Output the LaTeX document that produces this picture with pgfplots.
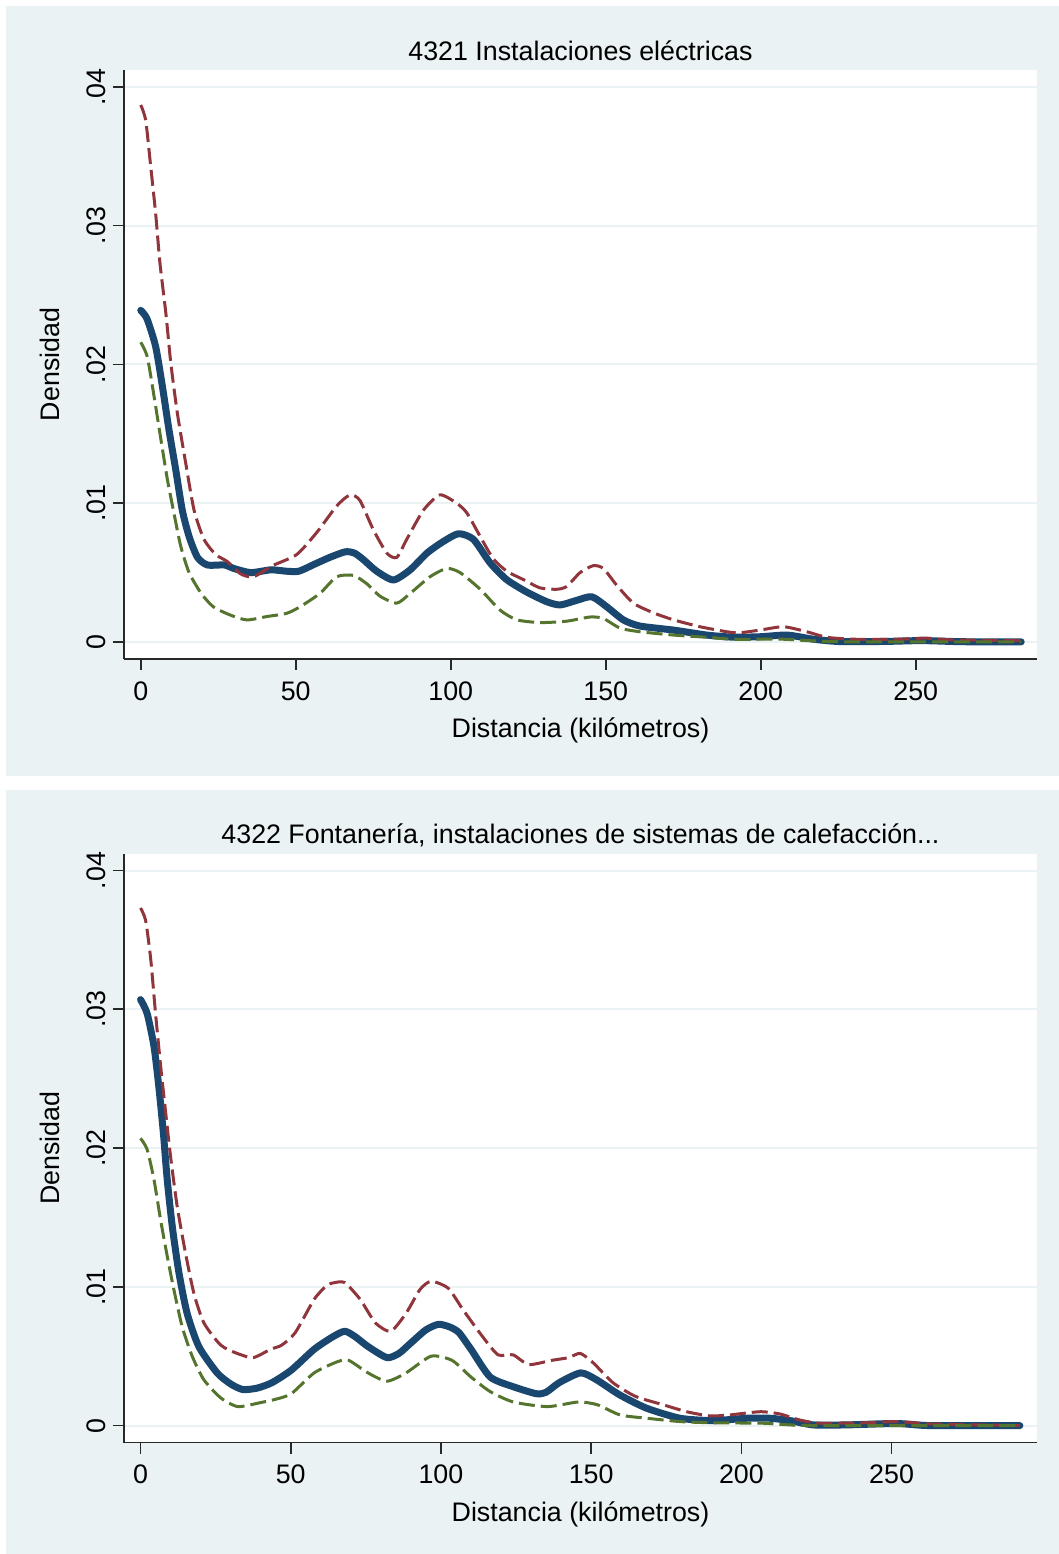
\documentclass[border=0pt]{standalone}
\usepackage{pgfplots}
\pgfplotsset{compat=1.18}
\usepackage{fontspec}
\setmainfont{Liberation Sans}
\definecolor{bgc}{RGB}{234,242,243}
\definecolor{snavy}{RGB}{26,71,111}
\definecolor{smaroon}{RGB}{144,53,59}
\definecolor{sgreen}{RGB}{85,117,47}
\definecolor{axc}{RGB}{40,40,40}
\pgfplotsset{
  statastyle/.style={
    scale only axis, width=456.5pt, height=294.5pt,
    ymin=-0.001225, ymax=0.04122,
    scaled y ticks=false, scaled x ticks=false,
    axis x line*=bottom, axis y line*=left,
    axis line style={axc, line width=0.8pt},
    every tick/.style={axc, line width=0.8pt},
    tick align=outside, major tick length=5.5pt,
    ytick={0,0.01,0.02,0.03,0.04},
    yticklabels={0,.01,.02,.03,.04},
    xtick={0,50,100,150,200,250},
    xticklabels={0,50,100,150,200,250},
    ymajorgrids, grid style={bgc, line width=1pt},
    axis background/.style={fill=white},
    font=\fontsize{13.4}{15}\selectfont,
    yticklabel style={rotate=90, anchor=south, inner sep=3.5pt},
    xticklabel style={anchor=north, inner sep=0pt, yshift=-5.5pt},
    xlabel={Distancia (kilómetros)}, ylabel={Densidad},
    xlabel style={at={(axis description cs:0.5,-0.1341)}, anchor=base},
    ylabel style={at={(axis description cs:-0.0701,0.5)}, anchor=base},
    title style={at={(axis description cs:0.5,0.996)}, anchor=base},
    mainl/.style={snavy, line width=3.5pt, line cap=round, line join=round, smooth, tension=0.4},
    upl/.style={smaroon, line width=1.5pt, dash pattern=on 8pt off 3pt, smooth, tension=0.4},
    lol/.style={sgreen, line width=1.5pt, dash pattern=on 8pt off 3pt, smooth, tension=0.4},
  }
}
\begin{document}
\begin{tikzpicture}
\fill[white] (0,0) rectangle (529.5pt,777pt);
\fill[bgc] (3pt,389pt) rectangle (529.5pt,774pt);
\fill[bgc] (3pt,0pt) rectangle (529.5pt,382pt);
\begin{axis}[statastyle, at={(62pt,447.5pt)}, anchor=south west,
  xmin=-5.4, xmax=289.1, title={4321 Instalaciones eléctricas}]
\addplot[mainl] coordinates {
(0,0.0239)(2,0.0233)(4.8,0.0213)(7,0.0184)(9.1,0.0153)(11.3,0.0124)(13.4,0.0095)
(15.6,0.0076)(18.3,0.0061)(21.5,0.00555)(27,0.00555)(30,0.0053)(35.5,0.0050)
(42,0.0052)(47,0.0051)(51,0.0051)(56,0.0056)(61,0.0061)(66,0.0065)(69,0.0064)
(72,0.0059)(76.1,0.0051)(81.5,0.00447)(86.9,0.0052)(92.3,0.0064)(97.3,0.0072)
(102.5,0.0078)(107.3,0.0074)(112.7,0.0057)(118,0.0045)(124.5,0.0036)(131,0.0029)
(135.3,0.00267)(140.6,0.0030)(145.5,0.00326)(150.3,0.00254)(155.7,0.00159)
(161,0.00115)(171.8,0.00086)(182.6,0.0005)(191,0.00035)(200,0.00038)(208.5,0.0005)
(217,0.0002)(225.6,0.00003)(240,0.00004)(252,0.0001)(265,0.00002)(284,0.00001)};
\addplot[upl] coordinates {
(0,0.0387)(1.6,0.0376)(3.2,0.0343)(4.8,0.0309)(6.2,0.0273)(8.1,0.0237)(9.7,0.0201)
(11.8,0.0165)(14.5,0.0129)(17.2,0.0095)(20.4,0.0074)(24.2,0.0063)(27.9,0.0058)
(32.3,0.0049)(36.4,0.0047)(42.5,0.0055)(50.3,0.0063)(56.8,0.0079)(63.2,0.0098)
(67.5,0.0106)(70.7,0.0102)(75,0.0081)(79.4,0.0064)(82.6,0.0061)(85.8,0.0074)
(91.2,0.0095)(96.5,0.0106)(101.9,0.0100)(105.2,0.0093)(109.5,0.0076)(113.7,0.0060)
(118.1,0.0051)(123.4,0.0045)(128.8,0.0039)(134.2,0.0038)(137.4,0.0040)(141.7,0.0050)
(146,0.0055)(149.2,0.0053)(153.5,0.0041)(158.9,0.0028)(165.4,0.0021)(171.8,0.0016)
(180.4,0.0011)(189,0.00074)(193,0.00066)(199.8,0.00086)(207.3,0.0011)(214.8,0.00074)
(221.3,0.00034)(230,0.0002)(245,0.0002)(253,0.00028)(262,0.00015)(284,0.0001)};
\addplot[lol] coordinates {
(0,0.0216)(2.1,0.02056)(4.3,0.0177)(6.5,0.0146)(8.6,0.0117)(10.7,0.0093)(12.9,0.0069)
(15.6,0.0050)(19.5,0.0035)(23.4,0.00254)(28.8,0.00195)(34.2,0.00159)(40.6,0.00183)
(47.1,0.00207)(51.4,0.00254)(57.8,0.0035)(63.2,0.0047)(68.6,0.0048)(72.9,0.0042)
(77.2,0.0033)(82.6,0.0028)(86.9,0.0035)(93.3,0.0047)(98.7,0.0053)(103,0.0050)
(109.5,0.0038)(115.9,0.0023)(121.3,0.0016)(128.8,0.0014)(137.4,0.0015)(144.9,0.0018)
(149.2,0.0017)(154.6,0.0010)(161,0.00074)(171.8,0.0005)(182.6,0.00034)(191.2,0.0002)
(207,0.0002)(215,0.0001)(225,0.00002)(250,0.00001)(284,0.0)};
\end{axis}
\begin{axis}[statastyle, at={(62pt,55.7pt)}, anchor=south west,
  xmin=-5.5, xmax=298.4, title={4322 Fontanería, instalaciones de sistemas de calefacción...}]
\addplot[mainl] coordinates {
(0,0.0307)(2.2,0.0297)(4.5,0.0273)(6.1,0.0244)(7.6,0.0211)(8.9,0.0177)(10.6,0.0143)
(12.8,0.0110)(15.5,0.0081)(19.4,0.0057)(25.5,0.0038)(30,0.0030)(34,0.0026)
(38.8,0.0027)(43.8,0.0031)(50.2,0.0040)(57.8,0.0055)(64,0.0064)(68,0.0068)
(71.5,0.0064)(75.7,0.0057)(82,0.0049)(86,0.0052)(89.7,0.0059)(95,0.0069)(99.2,0.0073)
(103,0.0071)(106,0.0067)(110,0.0055)(116.4,0.0035)(124.1,0.0028)(131.7,0.0023)
(135,0.0024)(139.4,0.0031)(146.5,0.0038)(151.8,0.0033)(159.6,0.0022)(168.5,0.00125)
(179.6,0.00053)(190.6,0.00036)(201.8,0.00053)(209.5,0.00053)(216.2,0.00036)
(223.9,0.00005)(235,0.00005)(251.7,0.00015)(262.8,0.0)(292.7,0.0)};
\addplot[upl] coordinates {
(0,0.0373)(1.7,0.0364)(3.4,0.0336)(5,0.0297)(6.7,0.0259)(8.4,0.0225)(10,0.0194)
(12.2,0.0158)(15,0.0124)(17.8,0.0095)(21.1,0.0074)(26.7,0.0058)(32.2,0.0052)
(37.5,0.0049)(43.3,0.0055)(47,0.0058)(51.5,0.0067)(57.8,0.0091)(62,0.0101)
(64.5,0.0103)(68,0.0103)(73.1,0.0091)(78.2,0.0074)(83.3,0.0068)(88.4,0.0081)
(93,0.0098)(96.7,0.0104)(102.4,0.0099)(107.5,0.0083)(113.9,0.0064)(119,0.0051)
(124,0.0051)(129.2,0.0044)(136.8,0.0047)(142.5,0.0049)(146.4,0.0052)(150.8,0.0045)
(157.2,0.0031)(164.8,0.0021)(174,0.0015)(181.8,0.0010)(189.5,0.0007)(196.2,0.00077)
(206.2,0.0010)(212.8,0.00084)(219.5,0.0004)(226.2,0.00017)(240.6,0.0002)
(251.7,0.00029)(262.8,0.00012)(279.4,0.00005)(292.7,0.0)};
\addplot[lol] coordinates {
(0,0.0207)(2.2,0.0199)(4.5,0.0177)(6.7,0.0148)(8.9,0.0122)(11.1,0.0098)(13.9,0.0071)
(17.2,0.0050)(21.1,0.0033)(26.7,0.0020)(32.4,0.00137)(40,0.00166)(45,0.0019)
(50.2,0.0023)(57.8,0.0038)(65.5,0.0046)(69.3,0.0047)(75.7,0.0038)(82,0.0032)
(88.4,0.0038)(96.7,0.0050)(103.7,0.0047)(110,0.0035)(116.4,0.00245)(124.1,0.0017)
(135.5,0.00137)(145.7,0.0017)(152.1,0.0015)(159.6,0.00077)(168.5,0.00053)
(179.6,0.00029)(190.6,0.0002)(207.3,0.00017)(224,0.0)(292.7,0.0)};
\end{axis}
\end{tikzpicture}
\end{document}
